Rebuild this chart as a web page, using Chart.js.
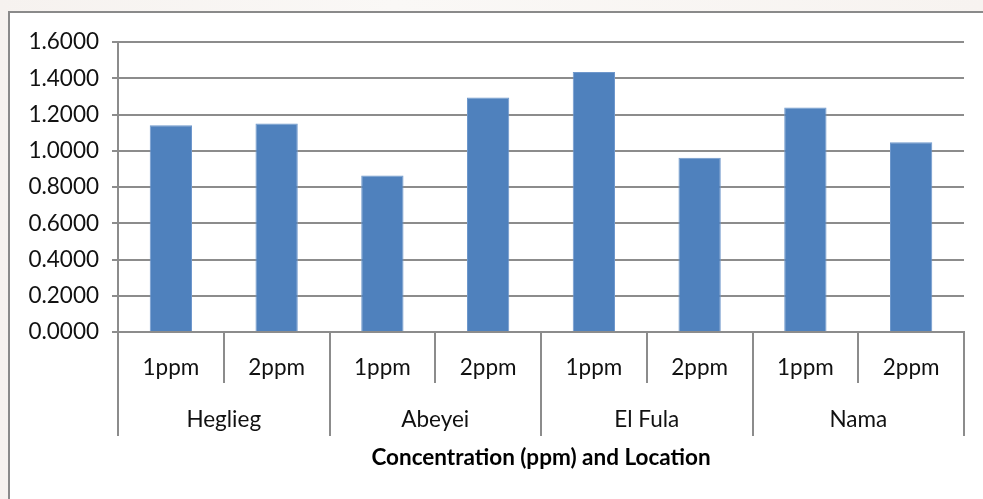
<!DOCTYPE html>
<html>
<head>
<meta charset="utf-8">
<script src="https://cdn.jsdelivr.net/npm/chart.js@4.4.1/dist/chart.umd.min.js"></script>
<style>
  html, body { margin: 0; padding: 0; }
  body {
    width: 983px; height: 499px; overflow: hidden;
    background: linear-gradient(90deg, #f6f2ef 0%, #faf8f6 40%, #f7f3f0 100%);
    position: relative;
  }
  #frame {
    position: absolute; left: 8px; top: 11px;
    width: 975px; height: 488px;
    border-left: 2px solid #8a8a8a; border-top: 2px solid #8a8a8a;
    background: #ffffff;
  }
  #frame canvas { display: block; }
</style>
</head>
<body>
<div id="frame"><canvas id="c" width="973" height="486"></canvas></div>
<script>
// Concentration levels repeated for each location
const concentrations = ['1ppm', '2ppm', '1ppm', '2ppm', '1ppm', '2ppm', '1ppm', '2ppm'];
const locations = ['Heglieg', 'Abeyei', 'El Fula', 'Nama'];
const values = [1.141, 1.151, 0.864, 1.294, 1.434, 0.962, 1.239, 1.047];
const yTicks = { min: 0, max: 1.6, step: 0.2 };

const GRID = '#8c8c8c';
const FONT = 'Lato';
const SIZE = 22.5;

// Vertical separators below the axis: short between concentrations, long between locations
const separators = {
  id: 'separators',
  afterDraw(chart) {
    const x = chart.scales.x;
    const bottom = chart.chartArea.bottom;
    const ctx = chart.ctx;
    ctx.save();
    ctx.strokeStyle = GRID;
    ctx.lineWidth = 2;
    for (let i = 0; i <= concentrations.length; i++) {
      const px = Math.round(x.getPixelForValue(i - 0.5));
      const len = (i % 2 === 0) ? 104 : 51;
      ctx.beginPath();
      ctx.moveTo(px, bottom);
      ctx.lineTo(px, bottom + len);
      ctx.stroke();
    }
    ctx.restore();
  }
};

new Chart(document.getElementById('c'), {
  type: 'bar',
  data: {
    labels: concentrations,
    datasets: [{
      data: values,
      backgroundColor: '#4f81bd',
      borderColor: '#6f98cc',
      borderWidth: 1,
      categoryPercentage: 1,
      barPercentage: 0.4
    }]
  },
  options: {
    responsive: false,
    animation: false,
    events: [],
    layout: { padding: { top: 29, right: 19, bottom: 27.5, left: 0 } },
    plugins: { legend: { display: false }, tooltip: { enabled: false } },
    scales: {
      y: {
        min: yTicks.min,
        max: yTicks.max,
        afterFit(s) { s.width = 108; },
        ticks: {
          stepSize: yTicks.step,
          padding: 13,
          color: '#111',
          font: { family: FONT, size: SIZE },
          callback: v => Number(v).toFixed(4)
        },
        grid: { color: GRID, lineWidth: 2, tickLength: 6, drawTicks: true },
        border: { color: GRID, width: 2 }
      },
      x: {
        type: 'category',
        position: 'bottom',
        offset: true,
        afterFit(s) { s.height = 52; },
        grid: { display: false, drawTicks: false },
        border: { color: GRID, width: 2 },
        ticks: {
          padding: 22.5,
          maxRotation: 0,
          autoSkip: false,
          color: '#111',
          font: { family: FONT, size: SIZE }
        }
      },
      x2: {
        type: 'category',
        position: 'bottom',
        labels: locations,
        offset: true,
        afterFit(s) { s.height = 87.5; },
        grid: { display: false, drawTicks: false },
        border: { display: false },
        ticks: {
          padding: 22.5,
          maxRotation: 0,
          autoSkip: false,
          color: '#111',
          font: { family: FONT, size: SIZE }
        },
        title: {
          display: true,
          text: 'Concentration (ppm) and Location',
          color: '#000',
          font: { family: FONT, size: SIZE, weight: 'bold' },
          padding: { top: 0, bottom: 0 }
        }
      }
    }
  },
  plugins: [separators]
});
</script>
</body>
</html>
